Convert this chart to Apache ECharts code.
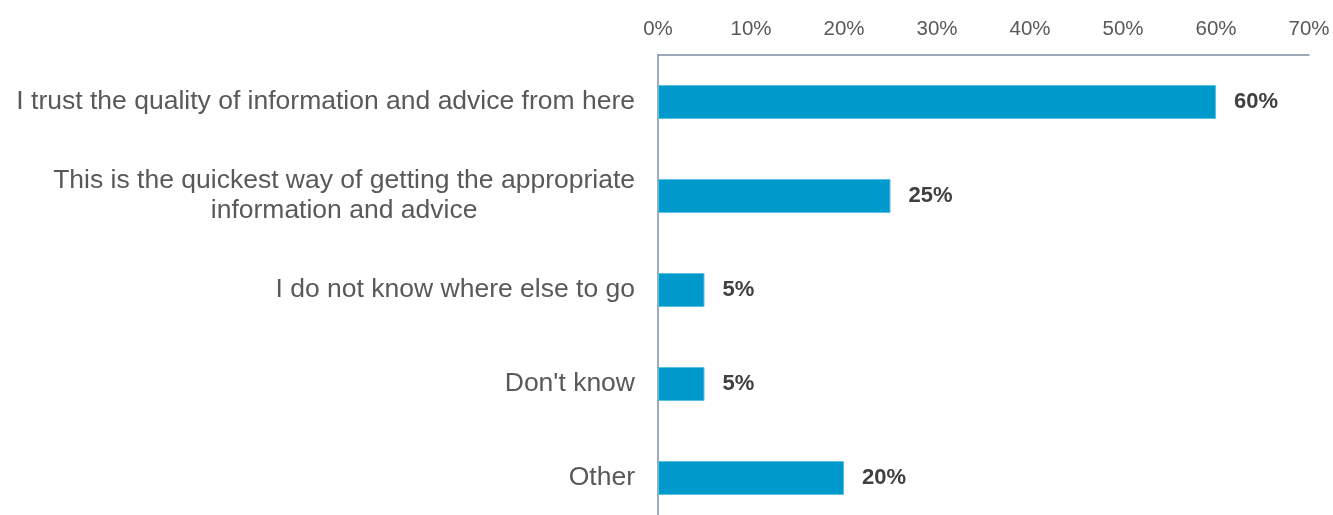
<!DOCTYPE html>
<html>
<head>
<meta charset="utf-8">
<script src="https://cdn.jsdelivr.net/npm/echarts@6/dist/echarts.min.js"></script>
<style>
  html, body { margin: 0; padding: 0; background: #fff; }
  #chart { width: 1333px; height: 515px; }
</style>
</head>
<body>
<div id="chart"></div>
<script>
// Reasons given for using this source of information and advice
const categories = [
  'I trust the quality of information and advice from here',
  'This is the quickest way of getting the appropriate\ninformation and advice',
  'I do not know where else to go',
  "Don't know",
  'Other'
];
const shares = [60, 25, 5, 5, 20];
const tickValues = [0, 10, 20, 30, 40, 50, 60, 70];

const FONT = '"Liberation Sans", Arial, sans-serif';
const axisColor = '#7f8fa3';
const chart = echarts.init(document.getElementById('chart'));
chart.setOption({
  animation: false,
  grid: { left: 658, top: 55, right: 24, bottom: -10, containLabel: false, outerBoundsMode: 'none' },
  xAxis: {
    type: 'value',
    position: 'top',
    min: tickValues[0],
    max: tickValues[tickValues.length - 1],
    interval: 10,
    axisLine: { show: true, lineStyle: { color: axisColor, width: 1.5 } },
    axisTick: { show: false },
    splitLine: { show: false },
    axisLabel: {
      formatter: v => v + '%',
      color: '#595959',
      fontFamily: FONT,
      fontSize: 20.5,
      margin: 15
    }
  },
  yAxis: {
    type: 'category',
    inverse: true,
    data: categories,
    axisLine: { show: true, lineStyle: { color: axisColor, width: 1.5 } },
    axisTick: { show: false },
    axisLabel: {
      margin: 23,
      formatter: v => '{c|' + v.split('\n').join('}\n{c|') + '}',
      rich: {
        c: {
          align: 'center',
          color: '#595959',
          fontFamily: FONT,
          fontSize: 26.5,
          lineHeight: 30
        }
      }
    }
  },
  series: [{
    type: 'bar',
    data: shares,
    barWidth: 34,
    itemStyle: { color: '#0099cc', borderColor: '#5bbfe3', borderWidth: 1 },
    label: {
      show: true,
      position: 'right',
      distance: 18,
      formatter: p => p.value + '%',
      color: '#404040',
      fontWeight: 'bold',
      fontFamily: FONT,
      fontSize: 22
    }
  }]
});
</script>
</body>
</html>
